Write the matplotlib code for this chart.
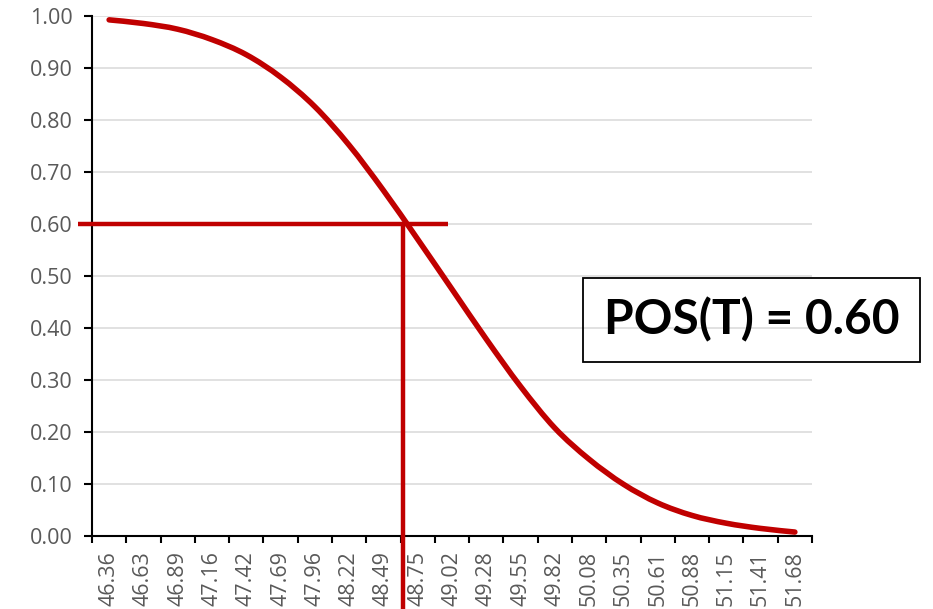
import numpy as np
import matplotlib
matplotlib.use("Agg")
import matplotlib.pyplot as plt
from matplotlib.path import Path
from matplotlib.patches import PathPatch, Rectangle

# Category labels (T values) and probability of success at each
t_labels = ["46.36", "46.63", "46.89", "47.16", "47.42", "47.69", "47.96",
            "48.22", "48.49", "48.75", "49.02", "49.28", "49.55", "49.82",
            "50.08", "50.35", "50.61", "50.88", "51.15", "51.41", "51.68"]
pos_values = [0.992, 0.985, 0.974, 0.954, 0.925, 0.882, 0.825, 0.751, 0.664,
              0.570, 0.474, 0.378, 0.287, 0.207, 0.147, 0.099, 0.063, 0.039,
              0.024, 0.014, 0.007]
y_ticks = [0.0, 0.1, 0.2, 0.3, 0.4, 0.5, 0.6, 0.7, 0.8, 0.9, 1.0]

# Selected threshold and its probability
t_selected = 48.64
pos_selected = 0.60

RED = "#C00000"
GREY_TXT = "#595959"
GRID = "#D9D9D9"

W, H = 933, 609
fig = plt.figure(figsize=(W / 100, H / 100), dpi=100)
ax = fig.add_axes([92 / W, 1 - 535.7 / H, 720 / W, 520 / H])

n = len(t_labels)
xs = np.arange(n, dtype=float)
t_numeric = np.array([float(s) for s in t_labels])
ys = np.array(pos_values)

# Smoothed line through the points (Bezier segments, Catmull-Rom style)
pts = np.column_stack([xs, ys])
padded = np.vstack([pts[0], pts, pts[-1]])
verts = [pts[0]]
codes = [Path.MOVETO]
for i in range(n - 1):
    p0, p1, p2, p3 = padded[i], padded[i + 1], padded[i + 2], padded[i + 3]
    c1 = p1 + (p2 - p0) / 6.0
    c2 = p2 - (p3 - p1) / 6.0
    verts += [c1, c2, p2]
    codes += [Path.CURVE4] * 3
curve = PathPatch(Path(verts, codes), fill=False, edgecolor=RED, lw=4.0,
                  capstyle="round", joinstyle="round", zorder=4)
ax.add_patch(curve)

# Threshold marker lines
t_pos = np.interp(t_selected, t_numeric, xs)
ax.plot([-0.91, 9.88], [pos_selected, pos_selected], color=RED, lw=3.2,
        solid_capstyle="butt", clip_on=False, zorder=5)
ax.plot([t_pos, t_pos], [pos_selected, -0.16], color=RED, lw=3.2,
        solid_capstyle="butt", clip_on=False, zorder=5)

# Axes styling
ax.set_xlim(-0.5, n - 0.5)
ax.set_ylim(0, 1.0)
ax.set_yticks(y_ticks)
ax.set_yticklabels([f"{v:.2f}" for v in y_ticks])
ax.yaxis.grid(True, color=GRID, lw=1.1)
ax.set_axisbelow(True)
ax.set_xticks(np.arange(-0.5, n, 1.0))
ax.set_xticklabels([])
ax.set_xticks(xs, minor=True)
ax.set_xticklabels(t_labels, minor=True, rotation=90)
for s in ("top", "right"):
    ax.spines[s].set_visible(False)
for s in ("left", "bottom"):
    ax.spines[s].set_linewidth(1.5)
    ax.spines[s].set_color("black")
ax.tick_params(axis="y", direction="out", length=6, width=1.5,
               colors="black", labelcolor=GREY_TXT, labelsize=15.5, pad=8)
ax.tick_params(axis="x", which="major", direction="out", length=5, width=1.5,
               colors="black")
ax.tick_params(axis="x", which="minor", length=0, labelcolor=GREY_TXT,
               labelsize=15.5, pad=11)
for lab in ax.get_yticklabels() + ax.get_xticklabels(minor=True):
    lab.set_fontfamily("Open Sans")

# Annotation box
box = Rectangle((583 / W, 1 - 362 / H), 337 / W, 84 / H, transform=fig.transFigure,
                fill=False, edgecolor="black", lw=1.3, zorder=6)
fig.patches.append(box)
fig.text(751.5 / W, 1 - 320 / H, f"POS(T) = {pos_selected:.2f}", ha="center",
         va="center", fontsize=34.5, fontweight="bold", family="Lato",
         color="black", zorder=7)

fig.savefig("out.png", dpi=100)
